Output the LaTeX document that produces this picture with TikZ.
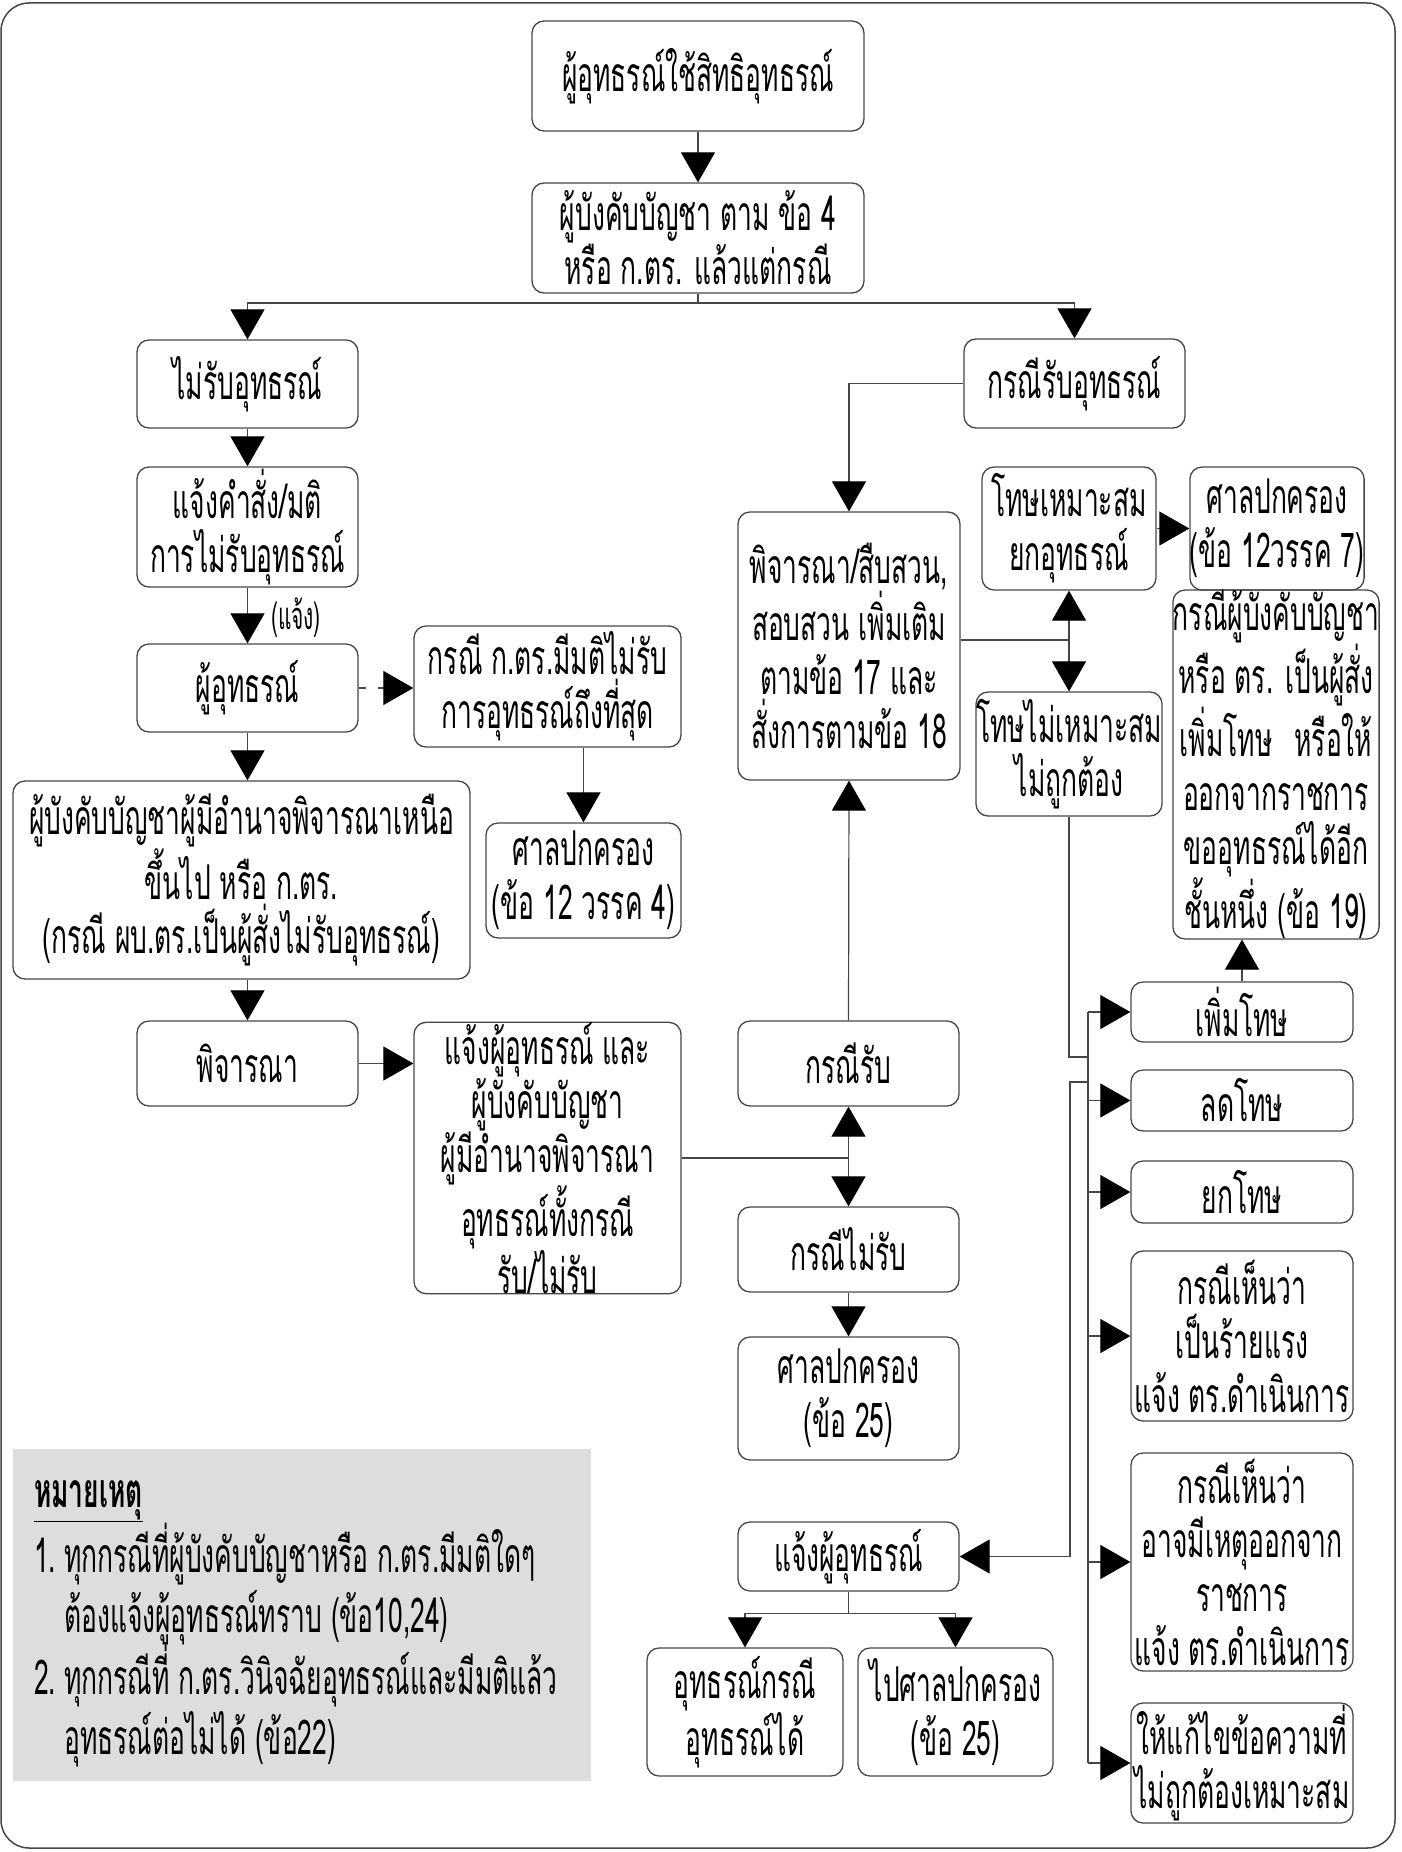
\documentclass[tikz,border=0pt]{standalone}
\usepackage{fontspec}
\setmainfont{Loma}[Script=Thai, FakeStretch=0.55]
\usetikzlibrary{arrows.meta}
\definecolor{notegray}{RGB}{220,221,223}
\definecolor{linegray}{RGB}{70,70,70}
\def\flowbox(#1)(#2,#3)(#4,#5)#6{\node[blk, minimum width={#4-#2}, minimum height={#5-#3}] (#1) at ({(#2+#4)/2},{(#3+#5)/2}) {#6};}

\begin{document}
\begin{tikzpicture}[x=1pt, y=-1pt,
	blk/.style={draw=linegray, line width=1.3pt, rounded corners=12pt, align=center, inner sep=0pt, font=\fontsize{48}{54}\selectfont},
	ln/.style={draw=linegray, line width=1.2pt},
	arr/.style={ln, -{Triangle[length=30pt, width=34pt, color=black]}}]
		%%%%% START %%%%%
		\useasboundingbox (0,0) rectangle (1401,1852);
		\draw[linegray, line width=1.5pt, rounded corners=28pt] (1,3) rectangle (1395,1848);
		
		\flowbox(top)(532,21)(864,131){ผู้อุทธรณ์ใช้สิทธิอุทธรณ์}
		\flowbox(mgr)(532,183)(864,293){ผู้บังคับบัญชา ตาม ข้อ 4\\หรือ ก.ตร. แล้วแต่กรณี}
		\flowbox(rej)(137,340)(358,428){ไม่รับอุทธรณ์}
		\flowbox(acc)(964,339)(1185,428){กรณีรับอุทธรณ์}
		
		\flowbox(notice)(137,467)(358,587){แจ้งคำสั่ง/มติ\\การไม่รับอุทธรณ์}
		\flowbox(appl)(137,644)(358,732){ผู้อุทธรณ์}
		\flowbox(final)(414,626)(681,747){กรณี ก.ตร.มีมติไม่รับ\\การอุทธรณ์ถึงที่สุด}
		\flowbox(courtA)(486,823)(681,938){ศาลปกครอง\\(ข้อ 12 วรรค 4)}
		\flowbox(higher)(13,781)(470,979){ผู้บังคับบัญชาผู้มีอำนาจพิจารณาเหนือ\\ขึ้นไป หรือ ก.ตร.\\(กรณี ผบ.ตร.เป็นผู้สั่งไม่รับอุทธรณ์)}
		\flowbox(consider)(137,1021)(358,1106){พิจารณา}
		\flowbox(inform)(414,1024)(681,1292){แจ้งผู้อุทธรณ์ และ\\ผู้บังคับบัญชา\\ผู้มีอำนาจพิจารณา\\อุทธรณ์ทั้งกรณี\\รับ/ไม่รับ}
		
		\flowbox(invest)(738,512)(960,780){พิจารณา/สืบสวน,\\สอบสวน เพิ่มเติม\\ตามข้อ 17 และ\\สั่งการตามข้อ 18}
		\flowbox(fit)(982,467)(1156,590){โทษเหมาะสม\\ยกอุทธรณ์}
		\flowbox(courtB)(1190,467)(1364,590){ศาลปกครอง\\(ข้อ 12วรรค 7)}
		\flowbox(unfit)(982,692)(1156,816){โทษไม่เหมาะสม\\ไม่ถูกต้อง}
		\flowbox(again)(1173,597)(1379,932){กรณีผู้บังคับบัญชา\\หรือ ตร. เป็นผู้สั่ง\\เพิ่มโทษ\hspace{22pt}หรือให้\\ออกจากราชการ\\ขออุทธรณ์ได้อีก\\ชั้นหนึ่ง (ข้อ 19)}
		
		\flowbox(caseA)(738,1021)(959,1106){กรณีรับ}
		\flowbox(caseR)(738,1207)(959,1292){กรณีไม่รับ}
		\flowbox(courtC)(738,1337)(959,1460){ศาลปกครอง\\(ข้อ 25)}
		\flowbox(notifyB)(738,1522)(959,1591){แจ้งผู้อุทธรณ์}
		\flowbox(okB)(647,1648)(843,1776){อุทธรณ์กรณี\\อุทธรณ์ได้}
		\flowbox(goCourt)(858,1648)(1053,1776){ไปศาลปกครอง\\(ข้อ 25)}
		
		\flowbox(inc)(1131,982)(1353,1042){เพิ่มโทษ}
		\flowbox(red)(1131,1070)(1353,1131){ลดโทษ}
		\flowbox(drop)(1131,1161)(1353,1223){ยกโทษ}
		\flowbox(grave)(1131,1251)(1353,1421){กรณีเห็นว่า\\เป็นร้ายแรง\\แจ้ง ตร.ดำเนินการ}
		\flowbox(dismiss)(1131,1453)(1353,1671){กรณีเห็นว่า\\อาจมีเหตุออกจาก\\ราชการ\\แจ้ง ตร.ดำเนินการ}
		\flowbox(fix)(1131,1703)(1353,1823){ให้แก้ไขข้อความที่\\ไม่ถูกต้องเหมาะสม}
		
		% top split
		\draw[arr] (top) -- (mgr);
		\coordinate (s1) at (698,303);
		\draw[ln] (mgr.south) -- (s1);
		\draw[arr] (s1) -| (rej.north);
		\draw[arr] (s1) -| (acc.north);
		
		% left column
		\draw[arr] (rej) -- (notice);
		\draw[arr] (notice) -- (appl);
		\node[font=\fontsize{38}{40}\selectfont] (tell) at (296,618) {(แจ้ง)};
		\draw[arr, dash pattern=on 7pt off 12pt] (appl.east) -- (appl.east -| final.west);
		\draw[arr] (final.south -| courtA) -- (courtA.north);
		\draw[arr] (appl.south) -- (appl.south |- higher.north);
		\draw[arr] (higher.south -| consider) -- (consider.north);
		\draw[arr] (consider.east) -- (consider.east -| inform.west);
		
		% middle column
		\coordinate (s2) at (inform.east -| caseA);
		\draw[ln] (inform.east) -- (s2);
		\draw[arr] (s2) -- (caseA.south);
		\draw[arr] (s2) -- (caseR.north);
		\draw[arr] (caseA.north) -- (invest.south);
		\draw[arr] (caseR) -- (courtC);
		\draw[arr] (acc.west) -| (invest.north);
		
		% right column
		\coordinate (s3) at (1069,640);
		\draw[ln] (s3 -| invest.east) -- (s3);
		\draw[arr] (s3) -- (fit.south);
		\draw[arr] (s3) -- (unfit.north);
		\draw[arr] (fit.east) -- (fit.east -| courtB.west);
		\draw[arr] (inc.north) -- (inc.north |- again.south);
		
		\coordinate (bus) at (1088,1057);
		\draw[ln] (unfit.south) |- (bus);
		\draw[ln] (bus |- inc.west) -- (bus |- fix.west);
		\foreach \b in {inc,red,drop,grave,dismiss,fix}
			\draw[arr] (bus |- \b.west) -- (\b.west);
		\coordinate (j2) at (1088,1082);
		\draw[arr] (j2) -- ++(-18,0) |- (notifyB.east);
		
		\draw[ln] (notifyB.south) -- ++(0,22) coordinate (s4);
		\draw[arr] (s4) -| (okB.north);
		\draw[arr] (s4) -| (goCourt.north);
		
		% note
		\fill[notegray] (13,1449) rectangle (591,1781);
		\node[anchor=north west, align=left, inner sep=0pt, font=\fontsize{48}{60}\selectfont] (note) at (34,1480) {\textbf{\underline{หมายเหตุ}}\\
			\makebox[30pt][l]{1.}ทุกกรณีที่ผู้บังคับบัญชาหรือ ก.ตร.มีมติใดๆ\\
			\hspace*{30pt}ต้องแจ้งผู้อุทธรณ์ทราบ (ข้อ10,24)\\
			\makebox[30pt][l]{2.}ทุกกรณีที่ ก.ตร.วินิจฉัยอุทธรณ์และมีมติแล้ว\\
			\hspace*{30pt}อุทธรณ์ต่อไม่ได้ (ข้อ22)};
		%%%%% END %%%%%
\end{tikzpicture}
\end{document}
